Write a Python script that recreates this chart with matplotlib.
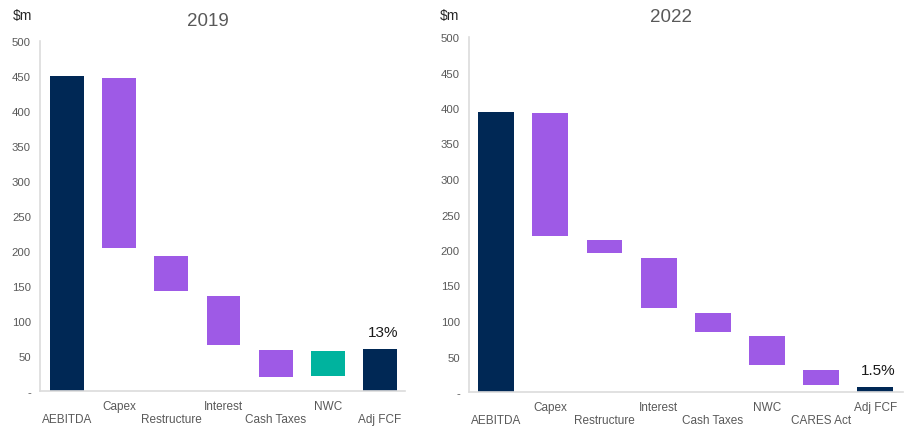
import matplotlib.pyplot as plt

plt.rcParams["font.family"] = ["Liberation Sans", "DejaVu Sans"]

# 2019 bridge: AEBITDA -> Adj FCF ($m)
cats_2019 = ["AEBITDA", "Capex", "Restructure", "Interest", "Cash Taxes", "NWC", "Adj FCF"]
top_2019 = [450, 447, 193, 136, 59, 57, 60]
bottom_2019 = [0, 205, 143, 66, 20, 21, 0]
kind_2019 = ["total", "neg", "neg", "neg", "neg", "nwc", "total"]
margin_2019 = "13%"

# 2022 bridge
cats_2022 = ["AEBITDA", "Capex", "Restructure", "Interest", "Cash Taxes", "NWC", "CARES Act", "Adj FCF"]
top_2022 = [394, 393, 214, 189, 111, 79, 31, 7]
bottom_2022 = [0, 220, 196, 118, 84, 38, 10, 0]
kind_2022 = ["total", "neg", "neg", "neg", "neg", "neg", "neg", "total"]
margin_2022 = "1.5%"

yticks = [0, 50, 100, 150, 200, 250, 300, 350, 400, 450, 500]
ytick_labels = ["-"] + [str(v) for v in yticks[1:]]

colors = {"total": "#002855", "neg": "#9e5ae6", "nwc": "#00b39e"}
grey = "#595959"

W, H = 908, 435
fig = plt.figure(figsize=(W / 100, H / 100), dpi=100)


def px_axes(x0, x1, ytop, ybot):
    return fig.add_axes([x0 / W, 1 - ybot / H, (x1 - x0) / W, (ybot - ytop) / H])


def waterfall(ax, cats, top, bottom, kind, xlim, width, margin):
    xs = range(len(cats))
    heights = [t - b for t, b in zip(top, bottom)]
    ax.bar(xs, heights, bottom=bottom, width=width,
           color=[colors[k] for k in kind], linewidth=0)
    ax.set_xlim(*xlim)
    ax.set_ylim(0, 500)
    ax.set_yticks(yticks)
    ax.set_yticklabels(ytick_labels, color=grey, fontsize=8.2)
    ax.tick_params(axis="y", length=0, pad=6.5)
    ax.set_xticks([])
    for s in ["top", "right"]:
        ax.spines[s].set_visible(False)
    for s in ["left", "bottom"]:
        ax.spines[s].set_color("#dcdcdc")
        ax.spines[s].set_linewidth(1.2)
    # staggered category labels
    for i, c in enumerate(cats):
        dy = -28 if i % 2 == 0 else -15
        ax.annotate(c, (i, 0), xytext=(0, dy), textcoords="offset pixels",
                    ha="center", va="center", fontsize=8.5, color=grey,
                    annotation_clip=False)
    last = len(cats) - 1
    ax.annotate(margin, (last, top[last]), xytext=(3, 10), textcoords="offset pixels",
                ha="center", va="bottom", fontsize=11, color="#1a1a1a")


ax1 = px_axes(40, 405, 42, 392)
waterfall(ax1, cats_2019, top_2019, bottom_2019, kind_2019, (-0.52, 6.48), 0.65, margin_2019)
fig.text(208 / W, 1 - 21 / H, "2019", fontsize=13.5, color=grey, ha="center", va="center")
fig.text(13 / W, 1 - 16 / H, "$m", fontsize=10, color="#262626", va="center", ha="left")

ax2 = px_axes(469, 903, 38, 393)
waterfall(ax2, cats_2022, top_2022, bottom_2022, kind_2022, (-0.5, 7.51), 0.66, margin_2022)
fig.text(671 / W, 1 - 17 / H, "2022", fontsize=13.5, color=grey, ha="center", va="center")
fig.text(440 / W, 1 - 16 / H, "$m", fontsize=10, color="#262626", va="center", ha="left")

fig.savefig("out.png", dpi=100)
